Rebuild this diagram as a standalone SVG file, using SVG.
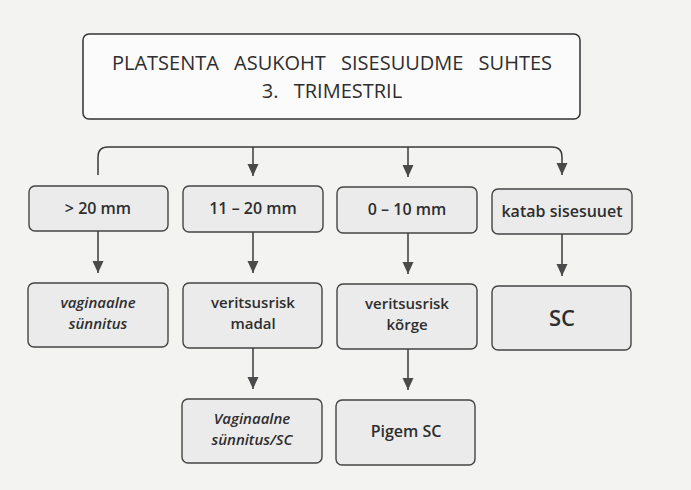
<svg xmlns="http://www.w3.org/2000/svg" width="691" height="490" viewBox="0 0 691 490">
<defs>
<marker id="ah" markerWidth="12" markerHeight="12" viewBox="0 0 12 12" refX="12" refY="6" orient="auto" markerUnits="userSpaceOnUse">
<path d="M0,0.5 L12,6 L0,11.5 Z" fill="#4a4a4a"/>
</marker>
</defs>
<style>
.bg{fill:#f3f3f2}
.top{fill:#fbfbfb;stroke:#333;stroke-width:1.5}
.box{fill:#ebebeb;stroke:#444;stroke-width:1.4}
.t{font-family:"Open Sans","DejaVu Sans",sans-serif;fill:#2e2e2e;text-anchor:middle}
.h{font-size:20px;word-spacing:10px}
.n{font-size:16px;font-weight:600}
.m{font-size:15px;font-weight:600}
.i{font-style:italic}
.sc{font-size:22px;font-weight:600}
.c{fill:none;stroke:#3a3a3a;stroke-width:1.5}
</style>
<rect class="bg" x="0" y="0" width="691" height="490"/>
<g id="top">
<rect class="top" x="83" y="34" width="497" height="85" rx="6"/>
<text class="t h" x="332" y="70">PLATSENTA ASUKOHT SISESUUDME SUHTES<tspan x="332" dy="28">3. TRIMESTRIL</tspan></text>
</g>
<g id="connectors">
<path class="c" d="M98,175 L98,157 Q98,147 108,147 L552,147 Q562,147 562,157 L562,175" marker-end="url(#ah)"/>
<path class="c" d="M253,147 L253,176" marker-end="url(#ah)"/>
<path class="c" d="M408,147 L408,177" marker-end="url(#ah)"/>
<path class="c" d="M98,231 L98,273" marker-end="url(#ah)"/>
<path class="c" d="M253,232 L253,273" marker-end="url(#ah)"/>
<path class="c" d="M408,233 L408,274" marker-end="url(#ah)"/>
<path class="c" d="M562,234 L562,276" marker-end="url(#ah)"/>
<path class="c" d="M253,348 L253,389" marker-end="url(#ah)"/>
<path class="c" d="M408,349 L408,390" marker-end="url(#ah)"/>
</g>
<g id="gt20">
<rect class="box" x="29" y="186" width="139" height="45" rx="6"/>
<text class="t n" x="98" y="214">&gt; 20 mm</text>
</g>
<g id="r11_20">
<rect class="box" x="183" y="186" width="140" height="46" rx="6"/>
<text class="t n" x="253" y="214">11 – 20 mm</text>
</g>
<g id="r0_10">
<rect class="box" x="337" y="187" width="140" height="46" rx="6"/>
<text class="t n" x="407" y="215">0 – 10 mm</text>
</g>
<g id="katab">
<rect class="box" x="492" y="189" width="140" height="45" rx="6"/>
<text class="t n" x="562" y="217">katab sisesuuet</text>
</g>
<g id="vaginaalne">
<rect class="box" x="28" y="283" width="140" height="64" rx="6"/>
<text class="t m i" x="98" y="308">vaginaalne<tspan x="98" dy="21">sünnitus</tspan></text>
</g>
<g id="madal">
<rect class="box" x="183" y="283" width="139" height="65" rx="6"/>
<text class="t m" x="253" y="308">veritsusrisk<tspan x="253" dy="21">madal</tspan></text>
</g>
<g id="korge">
<rect class="box" x="337" y="284" width="140" height="65" rx="6"/>
<text class="t m" x="407" y="309">veritsusrisk<tspan x="407" dy="21">kõrge</tspan></text>
</g>
<g id="sc">
<rect class="box" x="492" y="286" width="139" height="64" rx="6"/>
<text class="t sc" x="562" y="326">SC</text>
</g>
<g id="vagsc">
<rect class="box" x="182" y="399" width="140" height="64" rx="6"/>
<text class="t m i" x="252" y="424">Vaginaalne<tspan x="252" dy="21">sünnitus/SC</tspan></text>
</g>
<g id="pigem">
<rect class="box" x="336" y="400" width="139" height="65" rx="6"/>
<text class="t n" x="406" y="437">Pigem SC</text>
</g>
</svg>
